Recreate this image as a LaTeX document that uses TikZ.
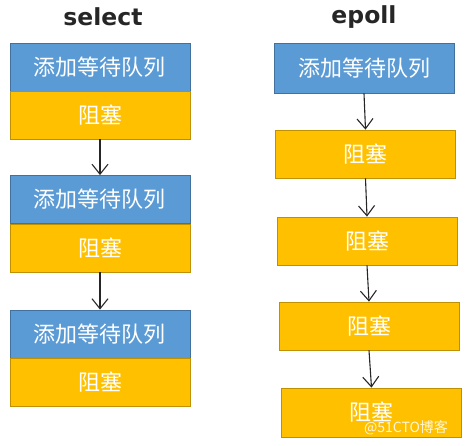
\documentclass[tikz,border=0pt]{standalone}
\usepackage{fontspec}
\setmainfont{DejaVu Sans}
\newfontfamily\cjk{Noto Sans CJK SC}
\usetikzlibrary{arrows.meta}
\definecolor{bfill}{HTML}{5B9BD5}
\definecolor{bline}{HTML}{41719C}
\definecolor{yfill}{HTML}{FFC000}
\definecolor{yline}{HTML}{BF9000}
\tikzset{
  box/.style={minimum width=180pt, inner sep=0pt, line width=0.8pt, font=\cjk\fontsize{22}{22}\selectfont, text=white},
  bluebox/.style={box, fill=bfill, draw=bline},
  yelbox/.style={box, fill=yfill, draw=yline},
  title/.style={font=\bfseries\fontsize{23.5}{23.5}\selectfont, text=black!85},
  arr/.style={-{Straight Barb[length=10pt,width=16pt]}, line width=1.1pt, black!85}
}
\begin{document}
\begin{tikzpicture}[x=1pt,y=-1pt]
\useasboundingbox (0,0) rectangle (466,446);
\node[title] (ts) at (103,17) {select};
\node[title] (te) at (364,17) {epoll};
% select column
\node[bluebox, minimum height=48pt] (b1) at (100,67) {添加等待队列};
\node[yelbox, minimum height=48pt] (y1) at (100,115) {阻塞};
\node[bluebox, minimum height=48pt] (b2) at (100,199.5) {添加等待队列};
\node[yelbox, minimum height=48pt] (y2) at (100,248) {阻塞};
\node[bluebox, minimum height=48pt] (b3) at (100,334) {添加等待队列};
\node[yelbox, minimum height=48pt] (y3) at (100,382.5) {阻塞};
\draw[arr] (y1.south) -- (b2.north);
\draw[arr] (y2.south) -- (b3.north);
% epoll column
\node[bluebox, minimum height=50pt] (e0) at (364,68) {添加等待队列};
\node[yelbox, minimum height=48pt] (e1) at (365.5,154) {阻塞};
\node[yelbox, minimum height=48pt] (e2) at (367,241) {阻塞};
\node[yelbox, minimum height=48pt] (e3) at (369,326) {阻塞};
\node[yelbox, minimum height=49pt] (e4) at (371.5,412.5) {阻塞};
\draw[arr] (e0.south) -- (e1.north);
\draw[arr] (e1.south) -- (e2.north);
\draw[arr] (e2.south) -- (e3.north);
\draw[arr] (e3.south) -- (e4.north);
% watermark
\node[font=\cjk\fontsize{14}{14}\selectfont, text=white, opacity=0.85] (wm) at (406,428) {@51CTO博客};
\end{tikzpicture}
\end{document}
